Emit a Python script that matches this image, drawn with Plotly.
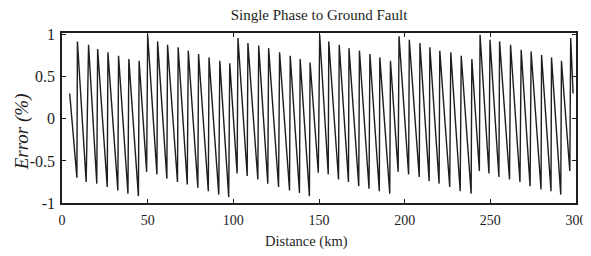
import plotly.graph_objects as go

# Vertices of the error curve (distance in km, error in %)
distance_km = [
    4.5, 8.7, 9.0, 14.1, 15.5, 20.3, 20.8, 26.4, 26.8, 32.6, 33.0, 38.5, 39.0, 44.6, 45.0,
    49.4, 50.0, 55.4, 55.8, 61.2, 61.6, 67.4, 67.8, 73.1, 73.7, 79.3, 79.7, 85.4, 85.8,
    91.5, 92.1, 97.3, 97.9,
    102.2, 102.7, 108.1, 108.5, 114.3, 114.8, 120.1, 120.6, 126.4, 127.0, 132.8, 133.2,
    138.6, 139.0, 144.4, 144.8,
    149.6, 150.4, 155.4, 155.7, 161.4, 161.8, 167.2, 167.5, 173.2, 173.6, 179.2, 179.7,
    185.2, 185.5, 191.3, 191.7,
    196.2, 196.7, 202.3, 202.7, 208.5, 208.9, 214.3, 214.7, 220.1, 220.5, 226.3, 226.9,
    232.4, 233.0, 238.8, 239.2,
    243.6, 244.0, 249.2, 249.8, 255.0, 255.4, 261.2, 261.8, 267.3, 268.0, 273.2, 273.8,
    279.6, 279.9, 285.4, 285.7, 291.1, 291.5,
    296.4, 296.9, 298.3,
]
error_pct = [
    0.30, -0.70, 0.92, -0.75, 0.88, -0.77, 0.83, -0.81, 0.79, -0.85, 0.75, -0.89, 0.71, -0.92, 0.69,
    -0.63, 1.00, -0.66, 0.92, -0.71, 0.88, -0.75, 0.85, -0.78, 0.81, -0.82, 0.77, -0.86, 0.73,
    -0.90, 0.69, -0.93, 0.66,
    -0.65, 0.96, -0.68, 0.90, -0.72, 0.87, -0.77, 0.84, -0.81, 0.79, -0.85, 0.75,
    -0.88, 0.71, -0.92, 0.67,
    -0.64, 1.00, -0.66, 0.92, -0.72, 0.88, -0.75, 0.84, -0.80, 0.81, -0.83, 0.77,
    -0.86, 0.73, -0.89, 0.69,
    -0.63, 0.98, -0.66, 0.94, -0.69, 0.90, -0.74, 0.85, -0.77, 0.81, -0.81, 0.79,
    -0.86, 0.75, -0.89, 0.71,
    -0.62, 1.00, -0.65, 0.94, -0.69, 0.92, -0.72, 0.88, -0.75, 0.82, -0.80, 0.80,
    -0.84, 0.76, -0.86, 0.73, -0.90, 0.69,
    -0.62, 0.96, 0.30,
]

x_ticks = [0, 50, 100, 150, 200, 250, 300]
x_tick_labels = ["0", "50", "100", "150", "200", "250", "300"]
y_ticks = [-1, -0.5, 0, 0.5, 1]
y_tick_labels = ["-1", "-0.5", "0", "0.5", "1"]

title_text = "Single Phase to Ground Fault"
x_title = "Distance (km)"
y_title = "<i>Error (%)</i>"

FONT = "Liberation Serif, Times New Roman, serif"
INK = "#1e1e1e"

fig = go.Figure()
fig.add_trace(go.Scatter(
    x=distance_km, y=error_pct, mode="lines",
    line=dict(color=INK, width=1.4), showlegend=False,
))

# The page body adds an 8 px offset, so margins are shifted by 8 px to compensate.
fig.update_layout(
    width=591, height=256,
    margin=dict(l=54, r=19, t=25, b=61),
    paper_bgcolor="white", plot_bgcolor="white",
    font=dict(family=FONT, color=INK, size=12),
    title=dict(text=title_text, x=0.5, xref="paper", y=0.974, yref="container",
               xanchor="center", yanchor="middle", font=dict(family=FONT, size=15, color=INK)),
    xaxis=dict(
        range=[0, 300], tickvals=x_ticks, ticktext=x_tick_labels,
        showgrid=False, zeroline=False,
        showline=True, linecolor=INK, linewidth=1.6, mirror="ticks",
        ticks="inside", ticklen=4, tickcolor=INK, tickwidth=1.2,
        ticklabelstandoff=3,
        tickfont=dict(family=FONT, size=14, color=INK),
    ),
    yaxis=dict(
        range=[-1, 1.02], tickvals=y_ticks, ticktext=y_tick_labels,
        showgrid=False, zeroline=False,
        showline=True, linecolor=INK, linewidth=1.6, mirror="ticks",
        ticks="inside", ticklen=4, tickcolor=INK, tickwidth=1.2,
        ticklabelstandoff=2,
        tickfont=dict(family=FONT, size=16, color=INK),
    ),
    annotations=[
        dict(text=x_title, xref="paper", yref="paper", x=0.475, y=-0.229,
             xanchor="center", yanchor="middle", showarrow=False,
             font=dict(family=FONT, size=14.5, color=INK)),
        dict(text=y_title, xref="paper", yref="paper", x=-0.077, y=0.418,
             xanchor="center", yanchor="middle", showarrow=False, textangle=-90,
             font=dict(family=FONT, size=19, color=INK)),
    ],
)

fig.write_html("out.html")
